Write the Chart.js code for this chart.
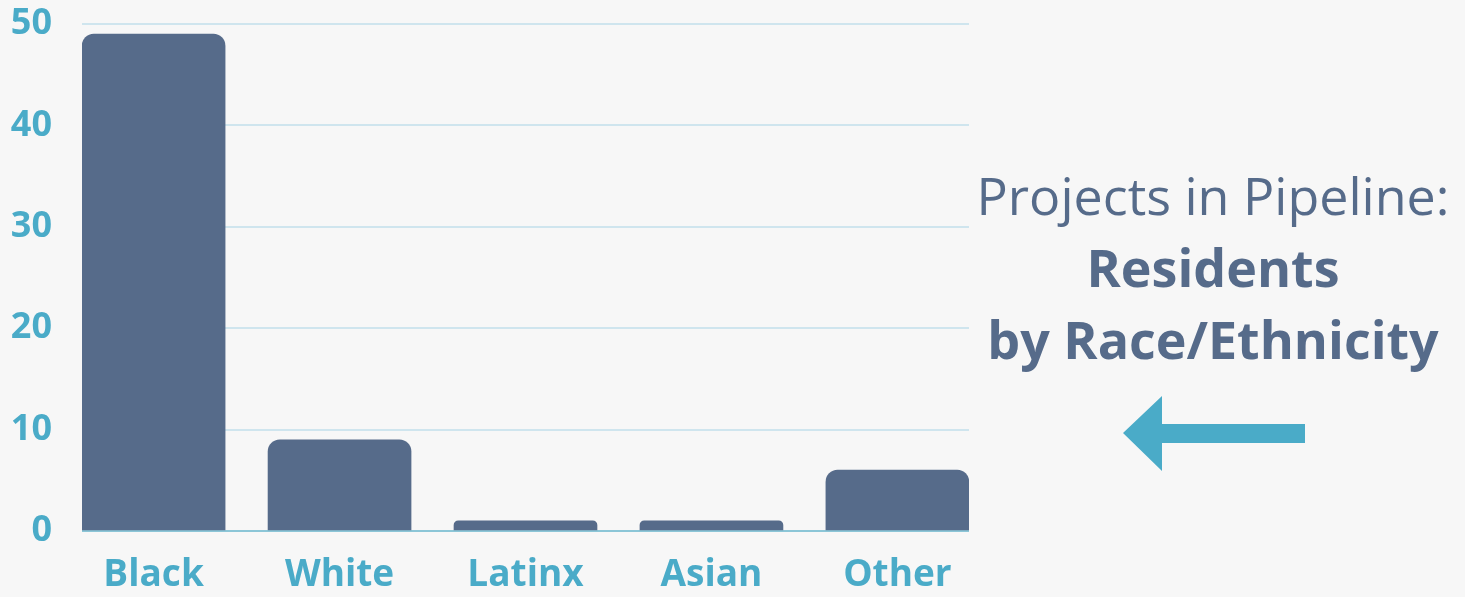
<!DOCTYPE html>
<html lang="en">
<head>
    <meta charset="UTF-8">
    <title>Residents by Race/Ethnicity</title>
    <script src="https://cdn.jsdelivr.net/npm/chart.js@4.4.0/dist/chart.umd.min.js"></script>
    <style>
        html, body { margin: 0; padding: 0; background: #f7f7f7; }
        #wrap { position: relative; width: 1465px; height: 597px; overflow: hidden; }
        #chart-box { position: absolute; left: 0; top: 0; width: 975px; height: 597px; }
        #side { position: absolute; left: 963px; top: 159px; width: 500px; text-align: center;
                font-family: "Open Sans", sans-serif; color: #566b8a; line-height: 72px; }
        #side .light { font-weight: 400; font-size: 52px; }
        #side .bold { font-weight: 700; font-size: 52px; }
        #arrow { position: absolute; left: 1120px; top: 392px; }
    </style>
</head>
<body>
<div id="wrap">
    <div id="chart-box"><canvas id="bar-chart"></canvas></div>
    <div id="side">
        <div class="light">Projects in Pipeline:</div>
        <div class="bold">Residents</div>
        <div class="bold">by Race/Ethnicity</div>
    </div>
    <svg id="arrow" width="190" height="84" viewBox="0 0 190 84">
        <polygon points="3,41 42,4 42,32 185,32 185,51 42,51 42,79" fill="#4aabc8"/>
    </svg>
</div>
<script>
    const categories = ["Black", "White", "Latinx", "Asian", "Other"];
    const residents = [49, 9, 1, 1, 6];
    const yTicks = [0, 10, 20, 30, 40, 50];

    const barColor = "#566b8a";
    const tickColor = "#4aabc8";

    let points = [];
    for (let i = 0; i < categories.length; i++) {
        points.push({x: i, y: residents[i]});
    }

    new Chart(document.getElementById("bar-chart"), {
        type: 'bar',
        data: {
            datasets: [{
                data: points,
                backgroundColor: barColor,
                barThickness: 143,
                borderRadius: {topLeft: 12, topRight: 12, bottomLeft: 0, bottomRight: 0},
                borderSkipped: false
            }]
        },
        options: {
            responsive: true,
            maintainAspectRatio: false,
            animation: false,
            layout: {padding: {top: 0, right: 6, left: 0, bottom: 0}},
            plugins: {
                legend: {display: false},
                tooltip: {enabled: false}
            },
            scales: {
                x: {
                    type: 'linear',
                    offset: false,
                    min: -0.385,
                    max: 4.385,
                    grid: {display: false},
                    border: {display: false},
                    afterFit: function (scale) { scale.height = 66; },
                    ticks: {
                        stepSize: 1,
                        includeBounds: false,
                        autoSkip: false,
                        maxRotation: 0,
                        padding: 14,
                        color: tickColor,
                        font: {family: "Open Sans", size: 37, weight: 'bold'},
                        callback: function (v) {
                            return Number.isInteger(v) ? categories[v] : '';
                        }
                    }
                },
                y: {
                    min: yTicks[0],
                    max: yTicks[yTicks.length - 1],
                    border: {display: false},
                    afterFit: function (scale) {
                        scale.width = 82;
                        scale.paddingTop = 24;
                    },
                    grid: {
                        drawTicks: false,
                        lineWidth: 2,
                        color: function (ctx) {
                            return ctx.tick && ctx.tick.value === 0 ? '#8cc6d7' : '#cfe5ee';
                        }
                    },
                    ticks: {
                        stepSize: 10,
                        padding: 30,
                        color: tickColor,
                        font: {family: "Open Sans", size: 36, weight: 'bold'}
                    }
                }
            }
        }
    });
</script>
</body>
</html>
